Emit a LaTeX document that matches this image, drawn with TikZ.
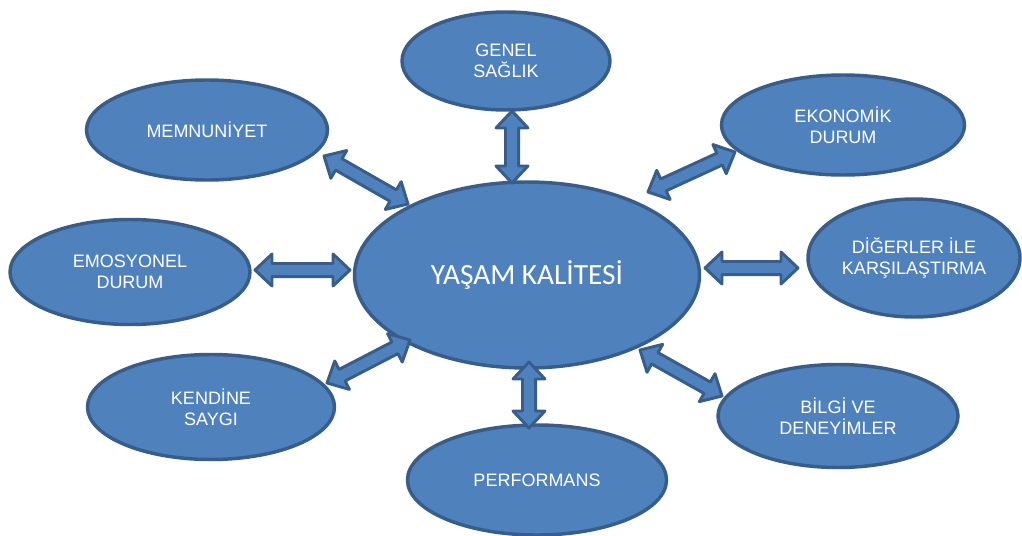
\documentclass[tikz,border=0pt]{standalone}
\usepackage{fontspec}
\setmainfont{Liberation Sans}
\newfontfamily\calibrifont{Carlito}
\usetikzlibrary{shapes.geometric,calc}
\definecolor{bfill}{HTML}{4F81BD}
\definecolor{bline}{HTML}{385D8A}
\tikzset{
  bubble/.style={ellipse, draw=bline, fill=bfill, line width=2.6pt, inner sep=0pt,
    text=white, align=center, font=\fontsize{13.5}{16}\selectfont},
  blockarrow/.style={draw=bline, fill=bfill, line width=2.2pt, line join=round},
}
\newcommand\ahl{12.75pt}
\newcommand\ahw{12pt}
\newcommand\ash{4.9pt}
\newcommand\barrow[2]{%
  \coordinate (#1p) at ($(#1)!\ahl!(#2)$);
  \coordinate (#2p) at ($(#2)!\ahl!(#1)$);
  \draw[blockarrow] (#1)
    -- ($(#1p)!\ahw!90:(#2)$) -- ($(#1p)!\ash!90:(#2)$)
    -- ($(#2p)!\ash!-90:(#1)$) -- ($(#2p)!\ahw!-90:(#1)$)
    -- (#2)
    -- ($(#2p)!\ahw!90:(#1)$) -- ($(#2p)!\ash!90:(#1)$)
    -- ($(#1p)!\ash!-90:(#2)$) -- ($(#1p)!\ahw!-90:(#2)$)
    -- cycle;
}
\begin{document}
\begin{tikzpicture}[x=0.75pt,y=-0.75pt]
\useasboundingbox (0,0) rectangle (1022,536);
\node[bubble, minimum width=258.75pt, minimum height=139.5pt,
  font=\calibrifont\fontsize{22}{26}\selectfont] (c) at (527,275) {YAŞAM KALİTESİ};
\node[bubble, minimum width=156pt, minimum height=73.5pt] (gen) at (506,61) {GENEL\\SAĞLIK};
\node[bubble, minimum width=180.75pt, minimum height=75pt] (mem) at (207,130) {MEMNUNİYET};
\node[bubble, minimum width=182.25pt, minimum height=75pt] (eko) at (843,125) {EKONOMİK\\DURUM};
\node[bubble, minimum width=180pt, minimum height=78.75pt] (emo) at (130,272) {EMOSYONEL\\DURUM};
\node[bubble, minimum width=159pt, minimum height=88.5pt] (dig) at (914,258) {DİĞERLER İLE\\KARŞILAŞTIRMA};
\node[bubble, minimum width=185.25pt, minimum height=78.75pt] (ken) at (211,407) {KENDİNE\\SAYGI};
\node[bubble, minimum width=194.25pt, minimum height=82.5pt] (per) at (537,480) {PERFORMANS};
\node[bubble, minimum width=180pt, minimum height=77.25pt] (bil) at (838,416) {BİLGİ VE\\DENEYİMLER};

\coordinate (a1) at (512,111); \coordinate (a2) at (512,183);
\coordinate (b1) at (324,156); \coordinate (b2) at (408,204);
\coordinate (c1) at (255,270); \coordinate (c2) at (350,270);
\coordinate (d1) at (327,383); \coordinate (d2) at (410,340);
\coordinate (e1) at (529,362); \coordinate (e2) at (529,428);
\coordinate (f1) at (640,350); \coordinate (f2) at (722,396);
\coordinate (g1) at (705,268); \coordinate (g2) at (798,268);
\coordinate (h1) at (648,192); \coordinate (h2) at (735,152);
\barrow{a1}{a2}
\barrow{b1}{b2}
\barrow{c1}{c2}
\barrow{d1}{d2}
\barrow{e1}{e2}
\barrow{f1}{f2}
\barrow{g1}{g2}
\barrow{h1}{h2}
\end{tikzpicture}
\end{document}
